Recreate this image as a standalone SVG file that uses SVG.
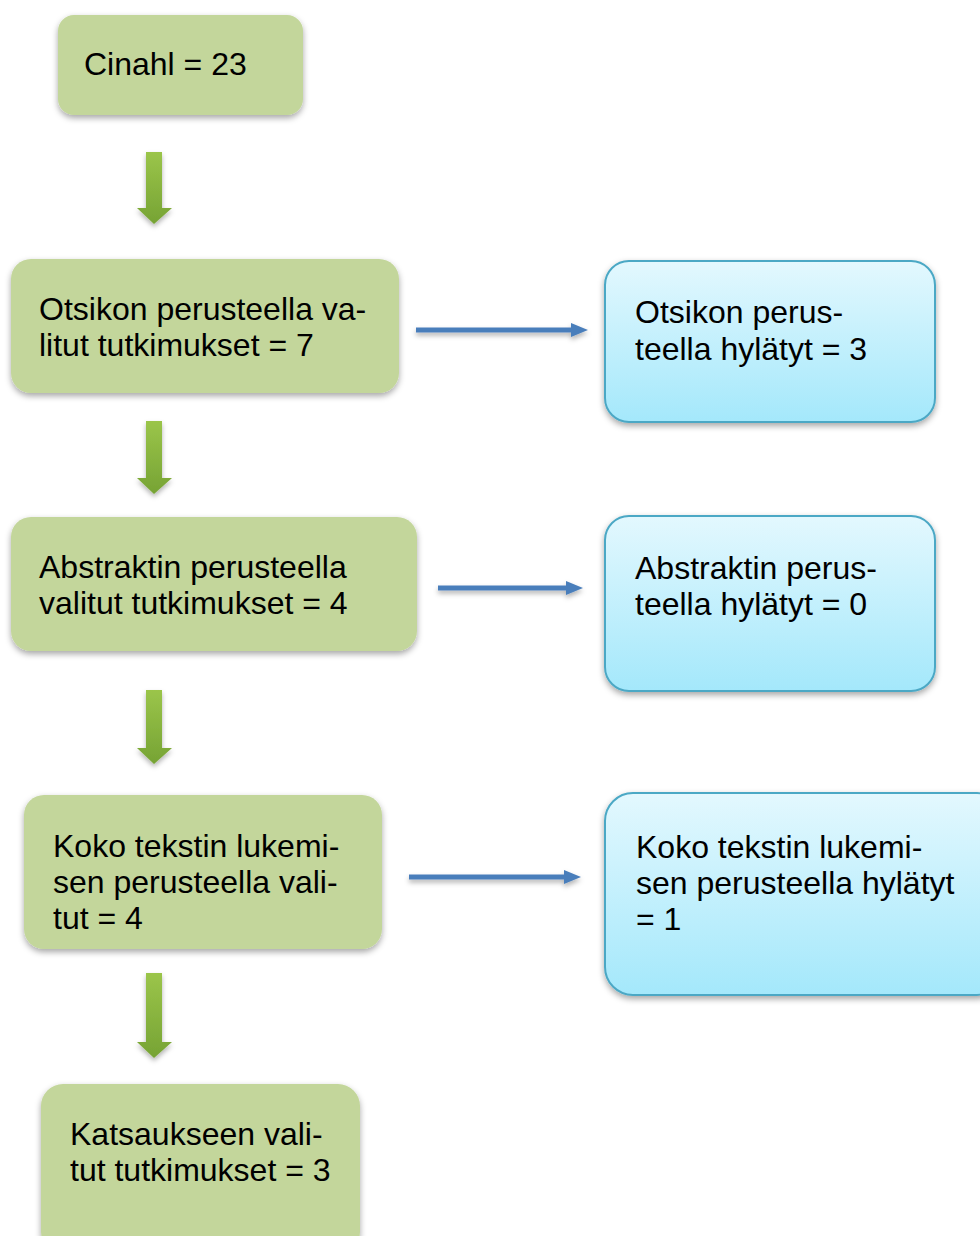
<svg xmlns="http://www.w3.org/2000/svg" width="980" height="1236" viewBox="0 0 980 1236">
<defs>
<linearGradient id="blueg" x1="0" y1="0" x2="0" y2="1">
<stop offset="0" stop-color="#e3f8fe"/>
<stop offset="1" stop-color="#a4e8fb"/>
</linearGradient>
<linearGradient id="greenarr" x1="0" y1="0" x2="0" y2="1">
<stop offset="0" stop-color="#9bc54a"/>
<stop offset="1" stop-color="#76a334"/>
</linearGradient>
<filter id="sh" x="-10%" y="-10%" width="120%" height="130%">
<feDropShadow dx="0" dy="3" stdDeviation="3" flood-color="#000" flood-opacity="0.35"/>
</filter>
<filter id="ash" x="-30%" y="-20%" width="160%" height="150%">
<feDropShadow dx="0" dy="3" stdDeviation="2.5" flood-color="#000" flood-opacity="0.3"/>
</filter>
<filter id="lsh" filterUnits="userSpaceOnUse" x="0" y="0" width="980" height="1236">
<feDropShadow dx="0" dy="3" stdDeviation="2.5" flood-color="#000" flood-opacity="0.3"/>
</filter>
<marker id="bhead" markerWidth="17" markerHeight="14" refX="1" refY="7" orient="auto" markerUnits="userSpaceOnUse">
<path d="M0,0 L17,7 L0,14 Z" fill="#4a7ebb"/>
</marker>
</defs>
<style>
.g{fill:#c3d69b;filter:url(#sh)}
.b{fill:url(#blueg);stroke:#4ba8c5;stroke-width:2;filter:url(#sh)}
text{font-family:"Liberation Sans",Arial,sans-serif;font-size:32px;fill:#000}
.conn{stroke:#4a7ebb;stroke-width:5;fill:none}
.garr{fill:url(#greenarr);filter:url(#ash)}
</style>
<rect width="980" height="1236" fill="#fff"/>
<g id="connectors">
<path class="garr" d="M146,152 H162 V208 H172 L154,224 L137,208 H146 Z"/>
<path class="garr" d="M146,421 H162 V478 H172 L154,494 L137,478 H146 Z"/>
<path class="garr" d="M146,690 H162 V748 H172 L154,764 L137,748 H146 Z"/>
<path class="garr" d="M146,973 H162 V1042 H172 L154,1058 L137,1042 H146 Z"/>
<g filter="url(#lsh)">
<line class="conn" x1="416" y1="330" x2="572" y2="330" marker-end="url(#bhead)"/>
<line class="conn" x1="438" y1="588" x2="567" y2="588" marker-end="url(#bhead)"/>
<line class="conn" x1="409" y1="877" x2="565" y2="877" marker-end="url(#bhead)"/>
</g>
</g>
<g id="cinahl">
<rect class="g" x="58" y="15" width="245" height="100" rx="16"/>
<text x="84" y="75">Cinahl = 23</text>
</g>
<g id="otsikon-valitut">
<rect class="g" x="11" y="259" width="388" height="134" rx="20"/>
<text x="39" y="320">Otsikon perusteella va-</text>
<text x="39" y="356">litut tutkimukset = 7</text>
</g>
<g id="otsikon-hylatyt">
<rect class="b" x="605" y="261" width="330" height="161" rx="24"/>
<text x="635" y="323">Otsikon perus-</text>
<text x="635" y="360">teella hylätyt = 3</text>
</g>
<g id="abstraktin-valitut">
<rect class="g" x="11" y="517" width="406" height="134" rx="20"/>
<text x="39" y="578">Abstraktin perusteella</text>
<text x="39" y="614">valitut tutkimukset = 4</text>
</g>
<g id="abstraktin-hylatyt">
<rect class="b" x="605" y="516" width="330" height="175" rx="24"/>
<text x="635" y="579">Abstraktin perus-</text>
<text x="635" y="615">teella hylätyt = 0</text>
</g>
<g id="koko-valitut">
<rect class="g" x="24" y="795" width="358" height="154" rx="20"/>
<text x="53" y="857">Koko tekstin lukemi-</text>
<text x="53" y="893">sen perusteella vali-</text>
<text x="53" y="929">tut = 4</text>
</g>
<g id="koko-hylatyt">
<rect class="b" x="605" y="793" width="400" height="202" rx="28"/>
<text x="636" y="858">Koko tekstin lukemi-</text>
<text x="636" y="894">sen perusteella hylätyt</text>
<text x="636" y="930">= 1</text>
</g>
<g id="katsaukseen">
<rect class="g" x="41" y="1084" width="319" height="170" rx="22"/>
<text x="70" y="1145">Katsaukseen vali-</text>
<text x="70" y="1181">tut tutkimukset = 3</text>
</g>
</svg>
